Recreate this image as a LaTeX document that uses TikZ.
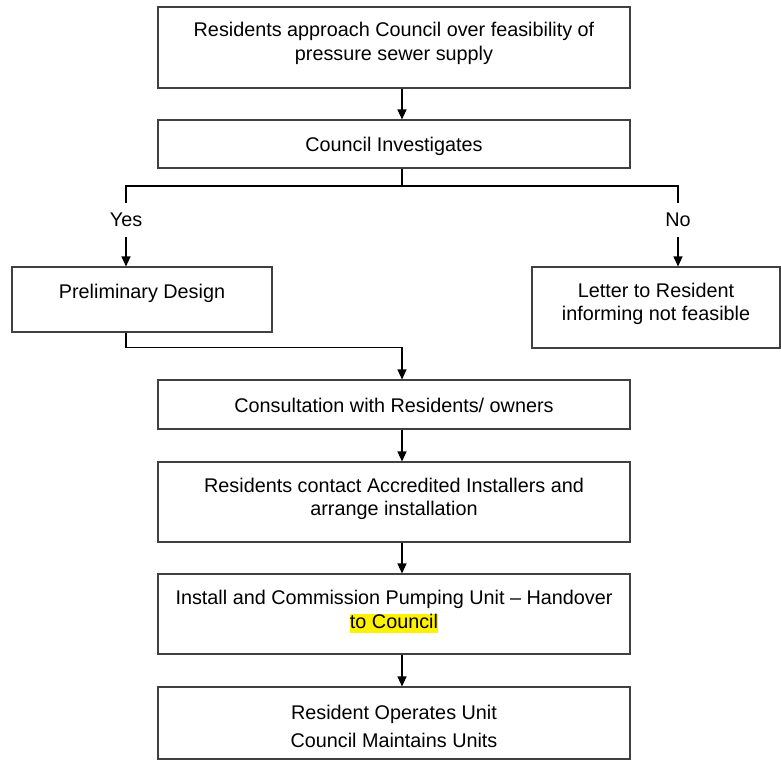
\documentclass[tikz,border=0pt]{standalone}
\usepackage{fontspec}
\setmainfont{Liberation Sans}
\usetikzlibrary{arrows.meta}

\newcommand{\hilite}[1]{{\setlength{\fboxsep}{0pt}\colorbox{yellow}{\rule[-0.25em]{0pt}{0.95em}#1}}}

\begin{document}
\begin{tikzpicture}[x=1pt,y=-1pt,
	box/.style={draw=black!75,line width=1.1pt,rectangle,inner sep=0pt},
	txt/.style={align=center,inner sep=0pt,font=\fontsize{19.8}{23.5}\selectfont},
	arr/.style={-{Triangle[length=10pt,width=9pt]}},
	line width=1.1pt]
		\useasboundingbox (0,0) rectangle (781,760);
		\coordinate (spine) at (402,0);
		\coordinate (split) at (402,186);

		\node[box,minimum width=472,minimum height=81](approach) at (394,47.5) {};
		\node[txt](approach-t) at (394,43.5) {Residents approach Council over feasibility of\\pressure sewer supply};
		\node[box,minimum width=472,minimum height=48](investigate) at (394,144) {};
		\node[txt](investigate-t) at (394,146) {Council Investigates};

		\node[txt,inner ysep=9.5pt](yes) at (126,220) {Yes};
		\node[txt,inner ysep=9.5pt](no) at (678,220) {No};

		\node[box,minimum width=260,minimum height=65](prelim) at (142,299.5) {};
		\node[txt](prelim-t) at (142,293) {Preliminary Design};
		\node[box,minimum width=248,minimum height=81](letter) at (656,307.5) {};
		\node[txt](letter-t) at (656,304) {Letter to Resident\\informing not feasible};

		\node[box,minimum width=472,minimum height=49](consult) at (394,404.5) {};
		\node[txt](consult-t) at (394,405) {Consultation with Residents/ owners};
		\node[box,minimum width=472,minimum height=80](contact) at (394,502) {};
		\node[txt](contact-t) at (394,499) {Residents contact Accredited Installers and\\arrange installation};
		\node[box,minimum width=472,minimum height=80](install) at (394,614) {};
		\node[txt](install-t) at (394,612) {Install and Commission Pumping Unit -- Handover\\\hilite{to Council}};
		\node[box,minimum width=472,minimum height=72](operate) at (394,723) {};
		\node[txt](operate-t) at (394,726) {Resident Operates Unit\\[4.5pt]Council Maintains Units};

		% connectors
		\draw[arr] (approach.south -| spine) -- (investigate.north -| spine);
		\draw (investigate.south -| spine) -- (split) -| (yes.north);
		\draw (split) -| (no.north);
		\draw[arr] (yes.south) -- (prelim.north -| yes);
		\draw[arr] (no.south) -- (letter.north -| no);
		\draw[arr] (prelim.south -| yes) -- ++(0,15) -| (consult.north -| spine);
		\draw[arr] (consult.south -| spine) -- (contact.north -| spine);
		\draw[arr] (contact.south -| spine) -- (install.north -| spine);
		\draw[arr] (install.south -| spine) -- (operate.north -| spine);
	\end{tikzpicture}
\end{document}
